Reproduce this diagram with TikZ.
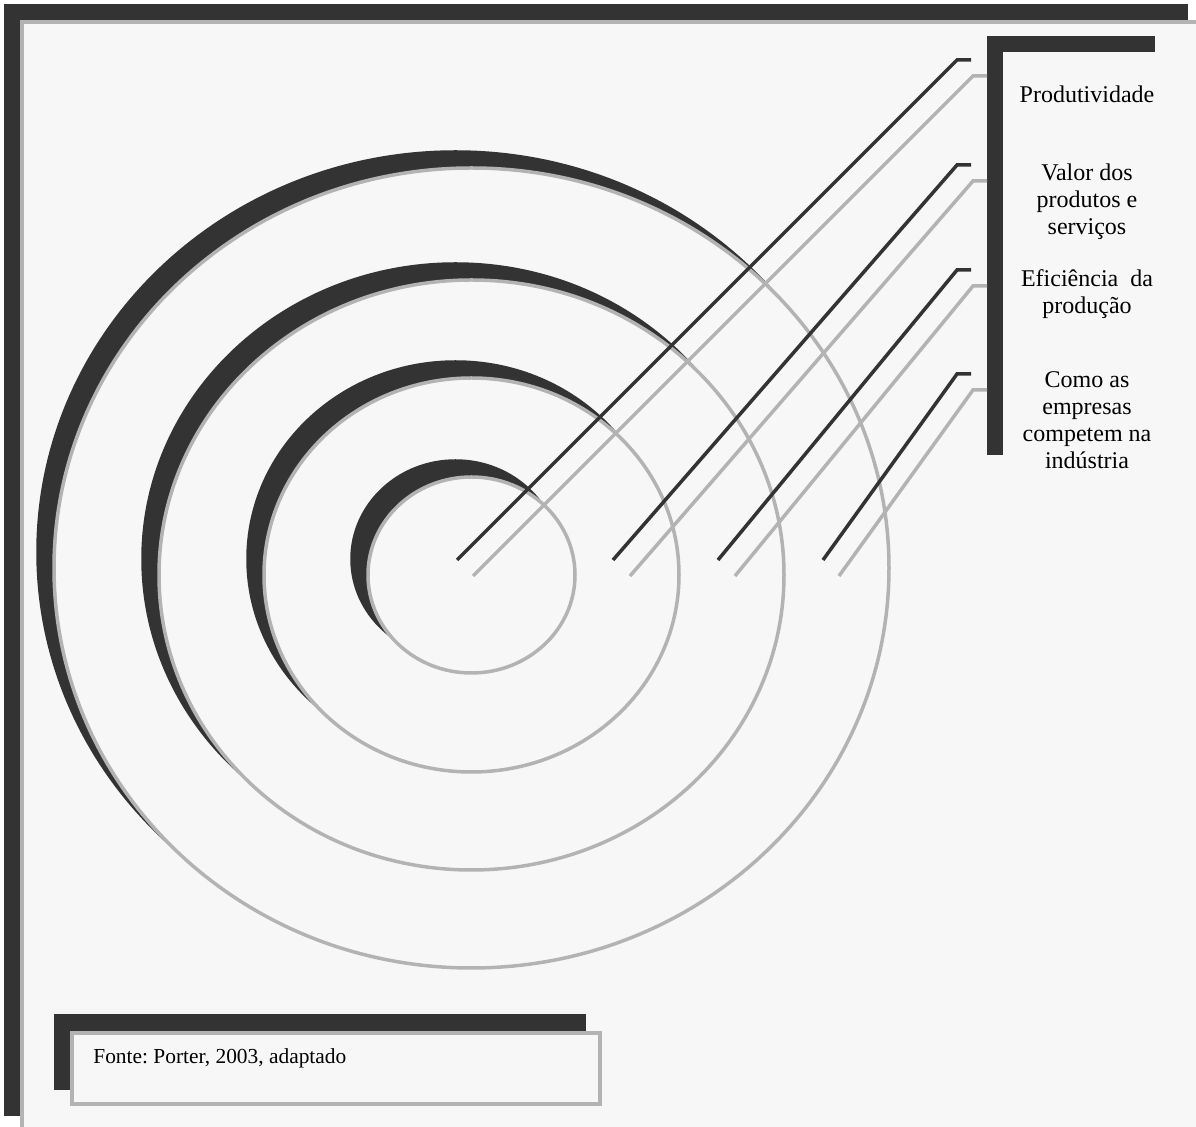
\documentclass[tikz,border=0pt]{standalone}
\usepackage{fontspec}
\setmainfont{Liberation Serif}
\usetikzlibrary{positioning}
\definecolor{escuro}{HTML}{333333}
\definecolor{cinza}{HTML}{B3B3B3}
\definecolor{fundo}{HTML}{F7F7F7}
\frenchspacing

\begin{document}
\begin{tikzpicture}[x=0.5pt, y=-0.5pt,
    sombra/.style={fill=escuro, draw=escuro, line width=1.75pt},
    anel/.style={fill=fundo, draw=cinza, line width=1.75pt},
    traco/.style={draw=escuro, line width=1.75pt},
    tracoclaro/.style={draw=cinza, line width=1.75pt},
    rotulo/.style={align=center, inner sep=0pt, font=\fontsize{12}{13.4}\selectfont}]
\useasboundingbox (0,0) rectangle (1196,1127);
\fill[white] (0,0) rectangle (1196,1127);
\fill[escuro] (4,4) rectangle (1188,1116);
\filldraw[fill=fundo, draw=cinza, line width=2pt] (22,22) rectangle (1210,1140);

\foreach \cy/\rx/\ry in {568/417.5/400, 575/312.5/295, 575/207.5/197, 575/103.5/98} {
    \path[sombra] (455.5,\cy-16) ellipse [x radius=\rx*0.5pt, y radius=\ry*0.5pt];
    \path[anel] (471.5,\cy) ellipse [x radius=\rx*0.5pt, y radius=\ry*0.5pt];
}

\fill[escuro] (987,36) rectangle (1155,455);
\fill[fundo] (1003,52) rectangle (1171,471);

\foreach \i/\xa/\xb/\yc in {1/457/473/60, 2/613/630/165, 3/718/735/270, 4/823/839/374} {
    \coordinate (ini\i) at (\xa,560);
    \coordinate (dob\i) at (957,\yc);
    \coordinate (fim\i) at (971,\yc);
    \coordinate (iniclaro\i) at (\xb,576);
    \coordinate (dobclaro\i) at (973,\yc+16);
    \coordinate (fimclaro\i) at (987,\yc+16);
    \draw[tracoclaro] (iniclaro\i) -- (dobclaro\i) -- (fimclaro\i);
    \draw[traco] (ini\i) -- (dob\i) -- (fim\i);
}

\node[rotulo, anchor=base] (produtividade) at (1087,103) {Produtividade};
\node[rotulo] (valor) at (1087,202) {Valor dos\\produtos e\\serviços};
\node[rotulo] (eficiencia) at (1087,294) {Eficiência \ da\\produção};
\node[rotulo] (competem) at (1087,420) {Como as\\empresas\\competem na\\indústria};

\fill[escuro] (54,1014) rectangle (586,1090);
\filldraw[fill=fundo, draw=cinza, line width=2pt] (72,1033) rectangle (600,1104);
\node[anchor=base west, inner sep=0pt, font=\fontsize{10.7}{12}\selectfont] (fonte) at (93,1064) {Fonte: Porter, 2003, adaptado};
\end{tikzpicture}
\end{document}
